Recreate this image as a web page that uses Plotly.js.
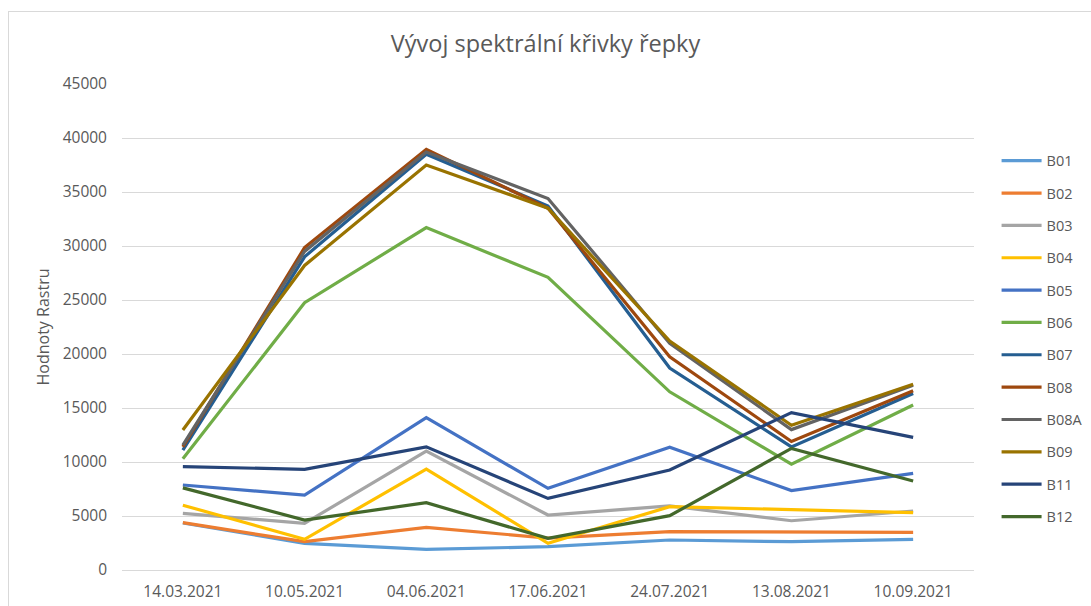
<!DOCTYPE html>
<html>
<head>
<meta charset="utf-8">
<script src="https://cdn.plot.ly/plotly-3.0.1.min.js"></script>
<style>
  html, body { margin: 0; padding: 0; background: #fff; }
  #wrap { position: relative; width: 1091px; height: 606px; overflow: hidden; }
  #chart { position: absolute; left: 0; top: 0; width: 1091px; height: 606px; }
  #frame { position: absolute; left: 8px; top: 11px; width: 1200px; height: 700px;
           border: 1px solid #d9d9d9; pointer-events: none; }
</style>
</head>
<body>
<div id="wrap">
  <div id="chart"></div>
  <div id="frame"></div>
</div>
<script>
const dates = ['14.03.2021','10.05.2021','04.06.2021','17.06.2021','24.07.2021','13.08.2021','10.09.2021'];

const B01  = [4350, 2470, 1910, 2160, 2780, 2620, 2840];
const B02  = [4380, 2620, 3950, 2950, 3550, 3550, 3490];
const B03  = [5250, 4320, 11000, 5090, 5930, 4560, 5460];
const B04  = [6000, 2840, 9350, 2470, 5860, 5620, 5310];
const B05  = [7870, 6940, 14100, 7560, 11360, 7350, 8950];
const B06  = [10300, 24750, 31700, 27100, 16500, 9800, 15280];
const B07  = [11100, 29000, 38500, 33700, 18700, 11400, 16350];
const B08  = [11400, 29850, 38950, 33500, 19750, 11900, 16600];
const B08A = [11570, 29500, 38700, 34400, 21000, 13000, 17100];
const B09  = [12960, 28200, 37500, 33500, 21200, 13400, 17190];
const B11  = [9570, 9320, 11400, 6630, 9260, 14570, 12280];
const B12  = [7600, 4630, 6230, 2930, 5030, 11260, 8240];

const seriesNames = ['B01','B02','B03','B04','B05','B06','B07','B08','B08A','B09','B11','B12'];
const seriesValues = [B01,B02,B03,B04,B05,B06,B07,B08,B08A,B09,B11,B12];
const colors = ['#5B9BD5','#ED7D31','#A5A5A5','#FFC000','#4472C4','#70AD47',
                '#255E91','#9E480E','#636363','#997300','#264478','#43682B'];

const traces = seriesNames.map((n, i) => ({
  type: 'scatter',
  mode: 'lines',
  name: n,
  legendgroup: n,
  x: dates,
  y: seriesValues[i],
  line: { color: colors[i], width: 3.2 }
}));

const font = "'Open Sans', 'Noto Sans', sans-serif";
const layout = {
  width: 1091, height: 606,
  margin: { l: 122, r: 117, t: 84, b: 36, autoexpand: false },
  paper_bgcolor: 'rgba(0,0,0,0)',
  plot_bgcolor: 'rgba(0,0,0,0)',
  font: { family: font, color: '#595959', size: 14 },
  title: {
    text: 'Vývoj spektrální křivky řepky',
    font: { family: font, size: 23.5, color: '#595959' },
    x: 0.5, xanchor: 'center', y: 0.927, yanchor: 'middle'
  },
  xaxis: {
    type: 'category',
    range: [-0.5, 6.5],
    showgrid: false,
    zeroline: false,
    showline: false,
    ticks: '',
    ticklabelstandoff: 10,
    tickfont: { size: 15.5, color: '#595959' }
  },
  yaxis: {
    range: [0, 45000],
    dtick: 5000,
    tick0: 0,
    tickformat: 'd',
    showgrid: true,
    gridcolor: '#d9d9d9',
    gridwidth: 1,
    zeroline: true,
    zerolinecolor: '#d9d9d9',
    zerolinewidth: 1,
    showline: false,
    ticks: '',
    ticklabelstandoff: 14,
    tickfont: { size: 15.5, color: '#595959' },
    title: { text: 'Hodnoty Rastru', font: { size: 16, color: '#595959' }, standoff: 9 }
  },
  showlegend: true,
  legend: {
    x: 1.0265, xanchor: 'left',
    y: 0.875, yanchor: 'top',
    font: { size: 14.5, color: '#595959' },
    itemwidth: 40,
    tracegroupgap: 10.5,
    bgcolor: 'rgba(0,0,0,0)'
  }
};

Plotly.newPlot('chart', traces, layout, { displayModeBar: false, staticPlot: true });
</script>
</body>
</html>
